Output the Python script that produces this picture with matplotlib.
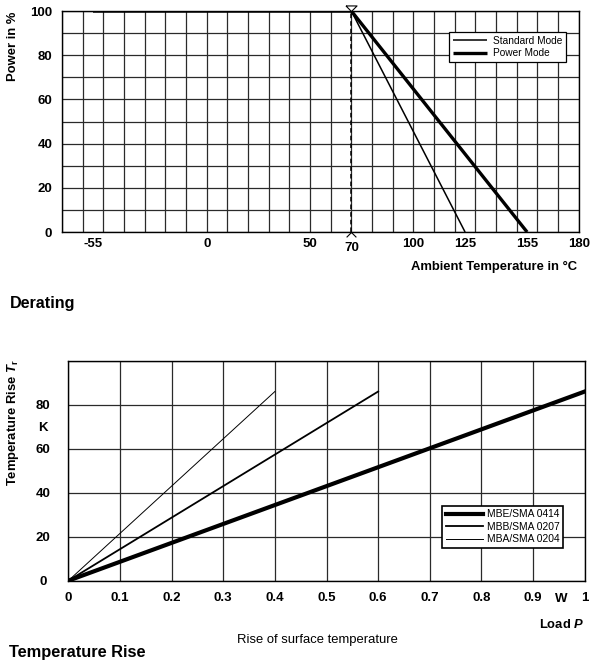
import numpy as np
import matplotlib
matplotlib.use("Agg")
from matplotlib import pyplot as plt
from matplotlib.ticker import MultipleLocator

plt.rcParams['font.family'] = ['Liberation Sans', 'DejaVu Sans']
plt.rcParams['mathtext.fontset'] = 'custom'
plt.rcParams['mathtext.rm'] = 'Liberation Sans'
plt.rcParams['mathtext.it'] = 'Liberation Sans:italic'
plt.rcParams['mathtext.bf'] = 'Liberation Sans:bold'
plt.rcParams['mathtext.bfit'] = 'Liberation Sans:bold:italic'

# derating curves
temp_standard = [-55, 70, 125]
power_standard = [100, 100, 0]
temp_power = [-55, 70, 155]
power_power = [100, 100, 0]
derating_ticks = [-55, 0, 50, 100, 125, 155, 180]
knee_temp = 70

# temperature rise curves (load in W, rise in K)
load_0414 = [0, 1.0]
rise_0414 = [0, 86]
load_0207 = [0, 0.6]
rise_0207 = [0, 86]
load_0204 = [0, 0.4]
rise_0204 = [0, 86]
load_ticks = [0, 0.1, 0.2, 0.3, 0.4, 0.5, 0.6, 0.7, 0.8, 0.9, 1.0]
load_labels = ['0', '0.1', '0.2', '0.3', '0.4', '0.5', '0.6', '0.7', '0.8', '0.9', '1']
rise_ticks = [0, 20, 40, 60, 70, 80]
rise_labels = ['0', '20', '40', '60', 'K', '80']

GRID = dict(color='#2a2a2a', linewidth=0.9)
TICKFONT = dict(fontsize=9.5, fontweight='bold')
LABELFONT = dict(fontsize=9.4, fontweight='bold')

fig = plt.figure(figsize=(5.91, 6.62), dpi=100)

# ---- Derating ----
ax1 = fig.add_axes([0.1049, 0.6495, 0.8744, 0.3338])
ax1.set_xlim(-70, 180)
ax1.set_ylim(0, 100)
ax1.xaxis.remove_overlapping_locs = False
ax1.yaxis.remove_overlapping_locs = False
ax1.xaxis.set_minor_locator(MultipleLocator(10))
ax1.yaxis.set_minor_locator(MultipleLocator(10))
ax1.grid(which='minor', **GRID)
ax1.set_axisbelow(True)
ax1.set_xticks(derating_ticks)
ax1.set_xticklabels([str(t) for t in derating_ticks], **TICKFONT)
ax1.set_yticks([0, 20, 40, 60, 80, 100])
ax1.set_yticklabels(['0', '20', '40', '60', '80', '100'], **TICKFONT)
ax1.tick_params(which='both', length=0)
ax1.tick_params(axis='x', pad=4)
ax1.tick_params(axis='y', pad=7)
for s in ax1.spines.values():
    s.set_color('black')
    s.set_linewidth(1)

ax1.plot(temp_standard, power_standard, color='black', lw=1.1, label='Standard Mode',
         solid_capstyle='butt')
ax1.plot(temp_power, power_power, color='black', lw=2.4, label='Power Mode',
         solid_capstyle='butt')
ax1.plot([knee_temp, knee_temp], [0, 100], color='black', lw=1.1, ls=(0, (3, 2)))
ax1.plot(knee_temp, 100, marker=[(-1, 1), (1, 1), (0, 0), (-1, 1)], ms=8,
         mfc='white', mec='black', mew=0.8, clip_on=False, zorder=5)
ax1.plot(knee_temp, 0, marker=[(-1, -1), (0, 0), (1, -1)], ms=7, mfc='none',
         mec='black', mew=0.8, clip_on=False, zorder=5)
ax1.annotate(str(knee_temp), xy=(knee_temp, 0), xycoords=('data', 'axes fraction'),
             xytext=(0, -7.5), textcoords='offset points', ha='center', va='top',
             **TICKFONT)

leg1 = ax1.legend(loc='upper right', bbox_to_anchor=(0.9577, 0.9517),
                  bbox_transform=fig.transFigure, fontsize=7.3, frameon=True,
                  fancybox=False, edgecolor='black', framealpha=1,
                  handlelength=3.4, handletextpad=0.6, borderpad=0.35,
                  labelspacing=0.25, borderaxespad=0)
leg1.get_frame().set_linewidth(0.9)

fig.text(0.022, 0.930, 'Power in %', rotation=90, ha='center', va='center',
         **LABELFONT)
fig.text(0.976, 0.597, 'Ambient Temperature in °C', ha='right', va='center',
         **LABELFONT)
fig.text(0.017, 0.542, 'Derating', ha='left', va='center', fontsize=11.6,
         fontweight='bold')

# ---- Temperature Rise ----
ax2 = fig.add_axes([0.1156, 0.1228, 0.8738, 0.3323])
ax2.set_xlim(0, 1)
ax2.set_ylim(0, 100)
ax2.xaxis.remove_overlapping_locs = False
ax2.yaxis.remove_overlapping_locs = False
ax2.xaxis.set_minor_locator(MultipleLocator(0.1))
ax2.yaxis.set_minor_locator(MultipleLocator(20))
ax2.grid(which='minor', **GRID)
ax2.set_axisbelow(True)
ax2.set_xticks(load_ticks)
ax2.set_xticklabels(load_labels, **TICKFONT)
ax2.set_yticks(rise_ticks)
ax2.set_yticklabels(rise_labels, ha='center', **TICKFONT)
ax2.tick_params(which='both', length=0)
ax2.tick_params(axis='x', pad=8)
ax2.tick_params(axis='y', pad=18)
for s in ax2.spines.values():
    s.set_color('black')
    s.set_linewidth(1)

ax2.plot(load_0414, rise_0414, color='black', lw=3.0, label='MBE/SMA 0414')
ax2.plot(load_0207, rise_0207, color='black', lw=1.3, label='MBB/SMA 0207')
ax2.plot(load_0204, rise_0204, color='black', lw=0.7, label='MBA/SMA 0204')
ax2.annotate('W', xy=(0.955, 0), xycoords=('data', 'axes fraction'),
             xytext=(0, -9), textcoords='offset points', ha='center', va='top',
             **TICKFONT)

leg2 = ax2.legend(loc='upper right', bbox_to_anchor=(0.953, 0.2361),
                  bbox_transform=fig.transFigure, fontsize=7.4, frameon=True,
                  fancybox=False, edgecolor='black', framealpha=1,
                  handlelength=3.6, handletextpad=0.4, borderpad=0.35,
                  labelspacing=0.25, borderaxespad=0)
leg2.get_frame().set_linewidth(1.2)

fig.text(0.022, 0.361, r'Temperature Rise $\mathbfit{T}_{\mathbf{r}}$', rotation=90,
         ha='center', va='center', **LABELFONT)
fig.text(0.988, 0.057, r'Load $\mathbfit{P}$', ha='right', va='center', **LABELFONT)
fig.text(0.537, 0.033, 'Rise of surface temperature', ha='center', va='center',
         fontsize=9.4)
fig.text(0.015, 0.015, 'Temperature Rise', ha='left', va='center', fontsize=11.8,
         fontweight='bold')

fig.savefig('out.png', dpi=100)
